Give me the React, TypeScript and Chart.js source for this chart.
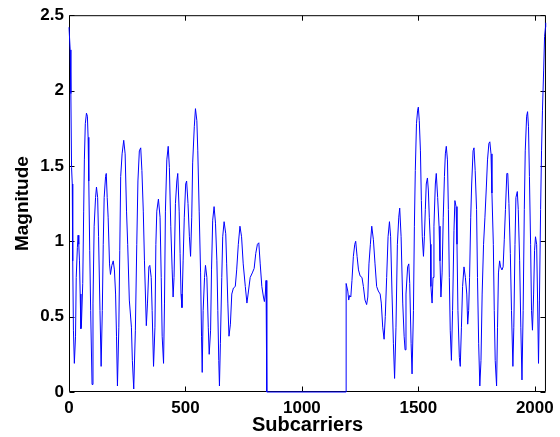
import React, { useEffect, useRef } from "react";
import { Chart, registerables } from "chart.js";

Chart.register(...registerables);

// Subcarrier index (x) and magnitude (y)
const subcarrierIdx: number[] = [
  0, 5, 8, 11, 14, 16, 19, 23, 28, 31, 36, 39, 42, 45, 48, 51, 53, 59, 63, 66,
  70, 75, 79, 82, 85, 89, 93, 99, 103, 108, 114, 118, 123, 127, 133, 138, 143, 147, 151, 157,
  160, 164, 168, 174, 178, 184, 190, 195, 200, 204, 208, 214, 218, 222, 228, 235, 241, 247, 252, 259,
  268, 272, 278, 285, 291, 296, 302, 308, 313, 319, 324, 332, 337, 343, 347, 353, 357, 363, 369, 373,
  377, 384, 391, 396, 400, 406, 410, 414, 420, 426, 431, 437, 443, 447, 451, 457, 463, 467, 473, 477,
  481, 485, 490, 495, 501, 505, 511, 517, 522, 527, 531, 538, 543, 549, 553, 559, 565, 569, 572, 576,
  582, 586, 592, 598, 602, 608, 612, 617, 623, 629, 635, 639, 643, 646, 650, 656, 660, 666, 673, 677,
  682, 687, 693, 699, 706, 714, 720, 727, 734, 741, 748, 757, 764, 769, 778, 787, 795, 802, 809, 815,
  821, 828, 835, 839, 843, 846, 849, 849.5, 1189.5,
  1190, 1197, 1201, 1205, 1210, 1215, 1221, 1227, 1231, 1237, 1243, 1250, 1258, 1264, 1271, 1278, 1283, 1288, 1294, 1300,
  1307, 1314, 1321, 1328, 1336, 1341, 1347, 1353, 1358, 1364, 1370, 1376, 1381, 1387, 1393, 1398, 1404, 1410, 1416, 1420,
  1426, 1433, 1439, 1443, 1447, 1454, 1459, 1463, 1469, 1473, 1479, 1483, 1487, 1492, 1497, 1500, 1504, 1509, 1513, 1517,
  1522, 1526, 1530, 1534, 1539, 1543, 1547, 1552, 1554, 1559, 1563, 1567, 1573, 1577, 1583, 1589, 1593, 1597, 1602, 1607,
  1612, 1616, 1620, 1625, 1629, 1633, 1637, 1642, 1647, 1653, 1657, 1662, 1666, 1670, 1676, 1680, 1685, 1690, 1696, 1702,
  1708, 1712, 1716, 1720, 1725, 1729, 1735, 1739, 1744, 1750, 1754, 1759, 1764, 1769, 1774, 1780, 1786, 1792, 1797, 1803,
  1807, 1812, 1816, 1822, 1826, 1830, 1836, 1840, 1844, 1849, 1853, 1859, 1864, 1869, 1874, 1880, 1884, 1889, 1895, 1900,
  1906, 1910, 1915, 1919, 1925, 1929, 1935, 1940, 1945, 1950, 1955, 1959, 1965, 1969, 1973, 1977, 1982, 1986, 1990, 1995,
  1999, 2003, 2008, 2012, 2016, 2020, 2025, 2029, 2033, 2038, 2042, 2046, 2047,
];

const magnitude: number[] = [
  2.42, 2.27, 1.98, 1.49, 1.38, 0.87, 0.41, 0.19, 0.37, 0.76, 0.96, 1.04, 0.98, 0.87, 0.65, 0.42, 0.43, 0.72, 1.2, 1.54,
  1.78, 1.85, 1.83, 1.69, 1.4, 0.94, 0.54, 0.05, 0.59, 1.1, 1.29, 1.36, 1.29, 1.03, 0.54, 0.17, 0.54, 0.98, 1.29, 1.43,
  1.45, 1.29, 1.16, 0.85, 0.78, 0.84, 0.87, 0.81, 0.65, 0.37, 0.04, 0.43, 0.94, 1.43, 1.58, 1.67, 1.58, 1.2, 0.98, 0.61,
  0.43, 0.21, 0.02, 0.41, 0.98, 1.4, 1.6, 1.62, 1.47, 1.2, 0.87, 0.44, 0.59, 0.83, 0.84, 0.76, 0.54, 0.17, 0.43, 0.98,
  1.2, 1.28, 1.16, 0.76, 0.37, 0.19, 0.59, 1.2, 1.54, 1.63, 1.49, 1.1, 0.81, 0.63, 0.76, 1.25, 1.4, 1.45, 1.2, 0.92,
  0.65, 0.56, 0.87, 1.16, 1.38, 1.4, 1.25, 1.03, 0.9, 1.16, 1.52, 1.76, 1.88, 1.8, 1.6, 1.2, 0.79, 0.37, 0.13, 0.54,
  0.76, 0.84, 0.76, 0.43, 0.25, 0.41, 0.81, 1.14, 1.23, 1.12, 0.87, 0.54, 0.21, 0.04, 0.32, 0.76, 1.03, 1.13, 1.05, 0.85,
  0.59, 0.37, 0.45, 0.65, 0.69, 0.7, 0.81, 0.98, 1.1, 1.03, 0.85, 0.7, 0.59, 0.65, 0.76, 0.79, 0.82, 0.92, 0.98, 0.99,
  0.85, 0.7, 0.63, 0.6, 0.65, 0.74, 0.74, 0, 0,
  0.72, 0.67, 0.61, 0.64, 0.63, 0.74, 0.9, 0.98, 1.0, 0.9, 0.81, 0.77, 0.76, 0.7, 0.61, 0.58, 0.63, 0.85, 0.98, 1.1,
  1.01, 0.85, 0.7, 0.67, 0.65, 0.59, 0.43, 0.35, 0.5, 0.76, 1.03, 1.13, 1.03, 0.65, 0.32, 0.09, 0.43, 0.98, 1.16, 1.22,
  1.03, 0.59, 0.37, 0.28, 0.65, 0.83, 0.85, 0.72, 0.32, 0.12, 0.54, 1.1, 1.47, 1.78, 1.87, 1.89, 1.8, 1.6, 1.27, 1.03,
  0.9, 1.03, 1.21, 1.38, 1.42, 1.34, 1.16, 0.98, 0.7, 0.59, 0.76, 1.1, 1.38, 1.45, 1.29, 1.1, 0.87, 0.63, 0.79, 1.16,
  1.43, 1.58, 1.63, 1.54, 1.21, 0.76, 0.41, 0.21, 0.54, 1.07, 1.27, 1.23, 0.98, 0.54, 0.23, 0.17, 0.43, 0.7, 0.83, 0.76,
  0.65, 0.45, 0.54, 0.76, 1.16, 1.38, 1.6, 1.62, 1.47, 1.21, 0.76, 0.32, 0.04, 0.21, 0.65, 0.98, 1.16, 1.36, 1.54, 1.65,
  1.66, 1.58, 1.32, 0.98, 0.54, 0.21, 0.04, 0.43, 0.79, 0.87, 0.83, 0.81, 0.83, 1.01, 1.21, 1.45, 1.45, 1.25, 0.92, 0.54,
  0.17, 0.43, 0.98, 1.29, 1.33, 1.21, 0.87, 0.43, 0.08, 0.54, 1.21, 1.6, 1.83, 1.86, 1.76, 1.43, 0.98, 0.54, 0.41, 0.65,
  0.94, 1.03, 0.98, 0.61, 0.19, 0.61, 1.21, 1.6, 1.87, 2.13, 2.36, 2.42, 2.45,
];

const xTickValues: number[] = [0, 500, 1000, 1500, 2000];
const yTickValues: number[] = [0, 0.5, 1, 1.5, 2, 2.5];
const xTitle = "Subcarriers";
const yTitle = "Magnitude";

const FONT = "'Liberation Sans', Arial, sans-serif";

const frameTicks = {
  id: "frameTicks",
  beforeDatasetsDraw(chart: any) {
    const { ctx, chartArea, scales } = chart;
    const L = chartArea.left + 0.5;
    const R = chartArea.right - 0.5;
    const T = chartArea.top + 0.5;
    const B = chartArea.bottom - 0.5;
    const len = 5;
    ctx.save();
    ctx.strokeStyle = "#000";
    ctx.lineWidth = 1;
    ctx.beginPath();
    ctx.rect(L, T, R - L, B - T);
    for (const v of xTickValues) {
      const px = Math.round(scales.x.getPixelForValue(v)) + 0.5;
      ctx.moveTo(px, B);
      ctx.lineTo(px, B - len);
      ctx.moveTo(px, T);
      ctx.lineTo(px, T + len);
    }
    for (const v of yTickValues) {
      const py = Math.round(scales.y.getPixelForValue(v)) + 0.5;
      ctx.moveTo(L, py);
      ctx.lineTo(L + len, py);
      ctx.moveTo(R, py);
      ctx.lineTo(R - len, py);
    }
    ctx.stroke();
    ctx.restore();
  },
};

export default function App() {
  const ref = useRef<HTMLCanvasElement | null>(null);

  useEffect(() => {
    if (!ref.current) return;
    const points = subcarrierIdx.map((x, i) => ({ x, y: magnitude[i] }));
    const chart = new Chart(ref.current, {
      type: "line",
      data: {
        datasets: [
          {
            data: points,
            borderColor: "#0000ff",
            borderWidth: 1,
            pointRadius: 0,
            tension: 0,
            fill: false,
            clip: false as any,
          },
        ],
      },
      options: {
        animation: false,
        responsive: false,
        events: [],
        layout: { padding: { top: 15, right: 13, left: 0, bottom: 0 } },
        plugins: { legend: { display: false }, tooltip: { enabled: false } },
        scales: {
          x: {
            type: "linear",
            min: 0,
            max: 2048,
            afterFit(scale: any) {
              scale.height = 45;
            },
            afterBuildTicks(scale: any) {
              scale.ticks = xTickValues.map((v) => ({ value: v }));
            },
            grid: { display: false, drawTicks: false },
            border: { display: false },
            ticks: {
              autoSkip: false,
              maxRotation: 0,
              padding: 6,
              color: "#000",
              font: { family: FONT, size: 17, weight: "bold" },
              callback: (v: any) => String(v),
            },
            title: {
              display: true,
              text: xTitle,
              color: "#000",
              font: { family: FONT, size: 20, weight: "bold" },
              padding: { top: 0, bottom: 0 },
            },
          },
          y: {
            type: "linear",
            min: 0,
            max: 2.5,
            afterFit(scale: any) {
              scale.width = 69;
            },
            afterBuildTicks(scale: any) {
              scale.ticks = yTickValues.map((v) => ({ value: v }));
            },
            grid: { display: false, drawTicks: false },
            border: { display: false },
            ticks: {
              padding: 5,
              color: "#000",
              font: { family: FONT, size: 17, weight: "bold" },
              callback: (v: any) => String(v),
            },
            title: {
              display: true,
              text: yTitle,
              color: "#000",
              font: { family: FONT, size: 19, weight: "bold" },
              padding: { top: 11, bottom: 0 },
            },
          },
        },
      },
      plugins: [frameTicks],
    });
    return () => chart.destroy();
  }, []);

  return (
    <div style={{ position: "absolute", left: 0, top: 0, width: 560, height: 437, background: "#fff" }}>
      <canvas ref={ref} width={560} height={437} style={{ display: "block" }} />
    </div>
  );
}
